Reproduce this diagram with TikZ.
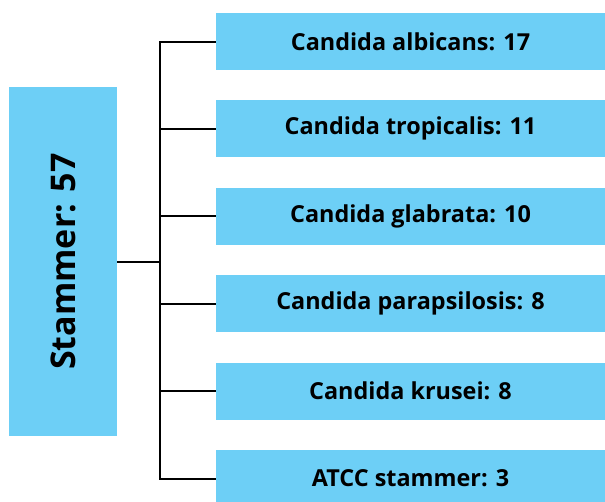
\documentclass[tikz,border=0pt]{standalone}
\usepackage{fontspec}
\setmainfont{Open Sans}
\definecolor{skyblue}{HTML}{6DCFF6}
\tikzset{
  artbox/.style={fill=skyblue,inner sep=0pt,minimum width=389pt,minimum height=57pt,
    font=\bfseries\fontsize{23.4}{28}\selectfont},
  link/.style={line width=2pt,black},
}
\begin{document}
\begin{tikzpicture}[x=1pt,y=-1pt]
        \useasboundingbox (0,0) rectangle (605,501);
        \clip (0,0) rectangle (605,501);
        \node[fill=skyblue,minimum width=108pt,minimum height=349pt,inner sep=0pt] (root) at (63,261.5) {};
        \node[rotate=90,font=\bfseries\fontsize{34}{38}\selectfont] (rootlabel) at (root.center) {Stammer: 57};
        \coordinate (spine) at (160,0);
        \foreach \n/\txt [count=\i] in {0/Candida albicans: 17,1/Candida tropicalis: 11,2/Candida glabrata: 10,
                3/Candida parapsilosis: 8,4/Candida krusei: 8,5/ATCC stammer: 3}
          \node[artbox] (c\i) at (410.5,41.5+87.4*\n) {\txt};
        \draw[link] (c1.west) -- (c1.west -| spine) -- (c6.west -| spine) -- (c6.west);
        \foreach \i in {2,...,5}
          \draw[link] (c\i.west -| spine) -- (c\i.west);
        \draw[link] (root.east) -- (root.east -| spine);
\end{tikzpicture}
\end{document}
